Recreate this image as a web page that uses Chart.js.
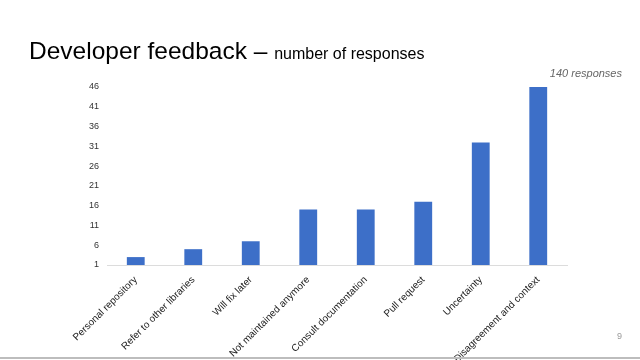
<!DOCTYPE html>
<html>
<head>
<meta charset="utf-8">
<script src="https://cdn.jsdelivr.net/npm/chart.js@4/dist/chart.umd.min.js"></script>
<style>
  html, body { margin: 0; padding: 0; background: #fff; }
  #wrap { position: relative; width: 640px; height: 360px; overflow: hidden; font-family: "Liberation Sans", Arial, sans-serif; }
  #chart { position: absolute; left: 0; top: 0; }
  .title { position: absolute; left: 29px; top: 37px; font-size: 24.5px; color: #000; white-space: nowrap; }
  .title small { font-size: 16px; }
  .total { position: absolute; right: 18px; top: 67px; font-size: 11px; font-style: italic; color: #666; }
  .page { position: absolute; left: 617px; top: 331px; font-size: 9px; color: #999; }
  .rule { position: absolute; left: 0; right: 0; top: 357px; height: 2px; background: #bdbdbd; }
</style>
</head>
<body>
<div id="wrap">
  <canvas id="chart" width="640" height="360"></canvas>
  <div class="title">Developer feedback – <small>number of responses</small></div>
  <div class="total">140 responses</div>
  <div class="page">9</div>
  <div class="rule"></div>
</div>
<script>
// categories and response counts
const categories = [
    'Personal repository',
    'Refer to other libraries',
    'Will fix later',
    'Not maintained anymore',
    'Consult documentation',
    'Pull request',
    'Uncertainty',
    'Disagreement and context'
];
const responses = [3, 5, 7, 15, 15, 17, 32, 46];
const yTicks = [1, 6, 11, 16, 21, 26, 31, 36, 41, 46];

const el = document.getElementById('chart');
new Chart(el, {
    type: 'bar',
    data: {
        labels: categories,
        datasets: [{
            label: 'Responses',
            data: responses,
            backgroundColor: '#3d6fc8',
            barPercentage: 0.62,
            categoryPercentage: 0.5
        }]
    },
    options: {
        responsive: false,
        animation: false,
        layout: { padding: { top: 87, right: 73, left: 0, bottom: 0 } },
        plugins: {
            legend: { display: false },
            tooltip: { enabled: false }
        },
        scales: {
            x: {
                grid: { display: false },
                border: { display: true, color: '#dcdcdc', width: 1 },
                afterFit: (scale) => { scale.height = 95; },
                ticks: {
                    color: '#222',
                    font: { family: '"Liberation Sans", Arial, sans-serif', size: 10 },
                    minRotation: 45,
                    maxRotation: 45,
                    autoSkip: false,
                    padding: 1
                }
            },
            y: {
                min: 1,
                max: 46,
                grid: { display: false },
                border: { display: false },
                afterBuildTicks: (scale) => {
                    scale.ticks = yTicks.map(v => ({ value: v }));
                },
                afterFit: (scale) => { scale.width = 107; },
                ticks: {
                    color: '#333',
                    font: { family: '"Liberation Sans", Arial, sans-serif', size: 9 },
                    padding: 0
                }
            }
        }
    }
});
</script>
</body>
</html>
